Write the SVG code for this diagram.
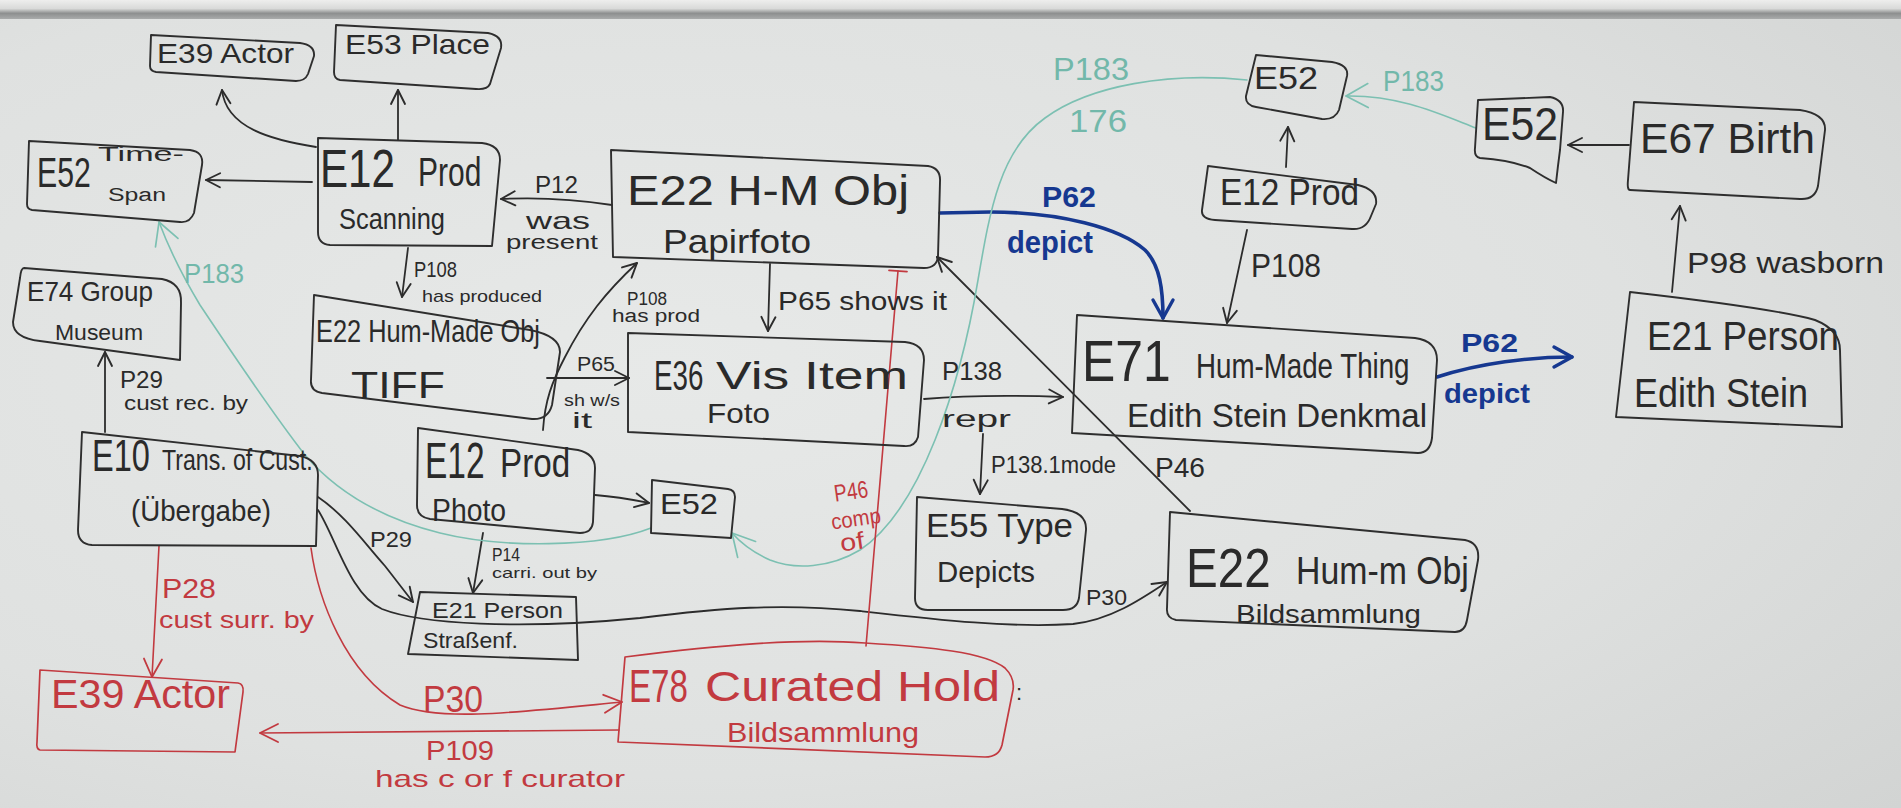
<svg xmlns="http://www.w3.org/2000/svg" width="1901" height="808" viewBox="0 0 1901 808">
  <defs>
    <radialGradient id="board" cx="0.35" cy="0.45" r="0.85">
      <stop offset="0" stop-color="#e7e9e8"/>
      <stop offset="0.6" stop-color="#dfe1e0"/>
      <stop offset="1" stop-color="#d2d4d3"/>
    </radialGradient>
    <linearGradient id="tray" x1="0" y1="0" x2="0" y2="1">
      <stop offset="0" stop-color="#eeeeed"/>
      <stop offset="0.45" stop-color="#d9dad9"/>
      <stop offset="0.7" stop-color="#8d8f8f"/>
      <stop offset="1" stop-color="#a9abab"/>
    </linearGradient>
    <marker id="ah-k" viewBox="0 0 20 20" refX="17" refY="10" markerWidth="20" markerHeight="20" markerUnits="userSpaceOnUse" orient="auto">
      <path d="M3,3 L17,10 L3,17" fill="none" stroke="#2c2c2c" stroke-width="1.9" stroke-linecap="round" stroke-linejoin="round"/>
    </marker>
    <marker id="ah-r" viewBox="0 0 24 24" refX="21" refY="12" markerWidth="24" markerHeight="24" markerUnits="userSpaceOnUse" orient="auto">
      <path d="M3,3 L21,12 L3,21" fill="none" stroke="#c23a40" stroke-width="1.8" stroke-linecap="round" stroke-linejoin="round"/>
    </marker>
    <marker id="ah-t" viewBox="0 0 30 30" refX="26" refY="15" markerWidth="30" markerHeight="30" markerUnits="userSpaceOnUse" orient="auto">
      <path d="M4,3 L26,15 L4,27" fill="none" stroke="#7cc0b2" stroke-width="1.7" stroke-linecap="round" stroke-linejoin="round"/>
    </marker>
    <marker id="ah-b" viewBox="0 0 26 26" refX="22" refY="13" markerWidth="26" markerHeight="26" markerUnits="userSpaceOnUse" orient="auto">
      <path d="M4,3 L22,13 L4,23" fill="none" stroke="#163890" stroke-width="3.4" stroke-linecap="round" stroke-linejoin="round"/>
    </marker>
    <marker id="bar-r" viewBox="0 0 20 20" refX="10" refY="10" markerWidth="20" markerHeight="20" markerUnits="userSpaceOnUse" orient="auto">
      <path d="M10,1 L10,19" fill="none" stroke="#c23a40" stroke-width="1.8" stroke-linecap="round"/>
    </marker>
    <style>
      .box { fill: none; stroke: #2e2e2e; stroke-width: 1.9; stroke-linejoin: round; stroke-linecap: round; }
      .rbox { fill: none; stroke: #c23a40; stroke-width: 1.7; stroke-linejoin: round; }
      .k { fill: none; stroke: #2c2c2c; stroke-width: 1.8; stroke-linecap: round; }
      .r { fill: none; stroke: #c23a40; stroke-width: 1.6; stroke-linecap: round; }
      .t { fill: none; stroke: #7cc0b2; stroke-width: 1.6; stroke-linecap: round; }
      .b { fill: none; stroke: #163890; stroke-width: 3.6; stroke-linecap: round; }
      text { font-family: "Liberation Sans", "DejaVu Sans", sans-serif; }
      .tk { fill: #2a2a2a; }
      .tr { fill: #c23a40; }
      .tt { fill: #72b8aa; }
      .tb { fill: #163890; font-weight: bold; }
    </style>
  </defs>

  <!-- whiteboard surface and aluminium top rail -->
  <rect x="0" y="0" width="1901" height="808" fill="url(#board)"/>
  <rect x="0" y="0" width="1901" height="19" fill="url(#tray)"/>

  <!-- connectors -->
  <g id="connectors">
    <!-- black -->
    <path class="k" d="M316,147 C272,140 226,128 222,90" marker-end="url(#ah-k)"/>
    <path class="k" d="M398,140 L398,90" marker-end="url(#ah-k)"/>
    <path class="k" d="M312,182 L206,180" marker-end="url(#ah-k)"/>
    <path class="k" d="M612,205 C580,200 540,197 501,199" marker-end="url(#ah-k)"/>
    <path class="k" d="M408,248 L402,297" marker-end="url(#ah-k)"/>
    <path class="k" d="M543,430 C545,400 552,382 565,357 C585,318 606,292 637,263" marker-end="url(#ah-k)"/>
    <path class="k" d="M547,378 L629,378" marker-end="url(#ah-k)"/>
    <path class="k" d="M770,264 L768,331" marker-end="url(#ah-k)"/>
    <path class="k" d="M924,399 C960,396 1010,395 1063,397" marker-end="url(#ah-k)"/>
    <path class="k" d="M983,434 L980,494" marker-end="url(#ah-k)"/>
    <path class="k" d="M1190,511 L937,257" marker-end="url(#ah-k)"/>
    <path class="k" d="M105,432 L105,352" marker-end="url(#ah-k)"/>
    <path class="k" d="M318,497 C345,515 366,545 385,566 C396,580 405,592 413,602" marker-end="url(#ah-k)"/>
    <path class="k" d="M318,510 C336,538 350,595 382,609 C420,624 520,630 640,618 C720,608 780,603 860,611 C940,620 1010,628 1073,624 C1110,620 1140,600 1167,582" marker-end="url(#ah-k)"/>
    <path class="k" d="M595,495 C620,497 634,500 649,503" marker-end="url(#ah-k)"/>
    <path class="k" d="M483,533 L473,593" marker-end="url(#ah-k)"/>
    <path class="k" d="M1286,167 L1288,127" marker-end="url(#ah-k)"/>
    <path class="k" d="M1247,230 L1227,323" marker-end="url(#ah-k)"/>
    <path class="k" d="M1629,145 L1568,145" marker-end="url(#ah-k)"/>
    <path class="k" d="M1672,292 L1680,206" marker-end="url(#ah-k)"/>
    <!-- blue -->
    <path class="b" d="M940,213 L990,212 C1060,212 1120,228 1145,250 C1160,265 1163,290 1163,318" marker-end="url(#ah-b)"/>
    <path class="b" d="M1437,377 C1480,363 1530,357 1572,357" stroke-width="3" marker-end="url(#ah-b)"/>
    <!-- teal -->
    <path class="t" d="M651,528 C600,548 500,548 440,533 C380,518 335,490 305,455 C270,410 230,350 200,305 C185,280 168,246 159,222" marker-end="url(#ah-t)"/>
    <path class="t" d="M1247,80 C1170,72 1090,85 1045,118 C1000,150 990,210 978,280 C968,340 955,390 935,440 C915,490 890,530 860,550 C830,568 795,570 770,560 C752,552 740,542 732,533" marker-end="url(#ah-t)"/>
    <path class="t" d="M1476,128 C1440,114 1400,95 1346,96" marker-end="url(#ah-t)"/>
    <!-- red -->
    <path class="r" d="M159,546 L152,677" marker-end="url(#ah-r)"/>
    <path class="r" d="M311,548 C318,600 345,672 400,705 C440,722 520,712 622,702" marker-end="url(#ah-r)"/>
    <path class="r" d="M619,730 C500,732 380,733 260,733" marker-end="url(#ah-r)"/>
    <path class="r" d="M866,646 C874,560 886,420 898,271" marker-end="url(#bar-r)"/>
  </g>

  <!-- connector labels -->
  <g id="edge-labels">
    <text class="tk" x="535" y="193" font-size="24" textLength="43" lengthAdjust="spacingAndGlyphs">P12</text>
    <text class="tk" x="526" y="229" font-size="24" textLength="64" lengthAdjust="spacingAndGlyphs">was</text>
    <text class="tk" x="506" y="249" font-size="20" textLength="92" lengthAdjust="spacingAndGlyphs">present</text>
    <text class="tk" x="414" y="277" font-size="22" textLength="43" lengthAdjust="spacingAndGlyphs">P108</text>
    <text class="tk" x="422" y="302" font-size="17" textLength="120" lengthAdjust="spacingAndGlyphs">has produced</text>
    <text class="tk" x="627" y="305" font-size="18" textLength="40" lengthAdjust="spacingAndGlyphs">P108</text>
    <text class="tk" x="612" y="322" font-size="18" textLength="88" lengthAdjust="spacingAndGlyphs">has prod</text>
    <text class="tk" x="778" y="310" font-size="26" textLength="169" lengthAdjust="spacingAndGlyphs">P65 shows it</text>
    <text class="tk" x="577" y="371" font-size="20" textLength="38" lengthAdjust="spacingAndGlyphs">P65</text>
    <text class="tk" x="564" y="406" font-size="16" textLength="56" lengthAdjust="spacingAndGlyphs">sh w/s</text>
    <text class="tk" x="572" y="428" font-size="22" textLength="20" lengthAdjust="spacingAndGlyphs">it</text>
    <text class="tk" x="120" y="388" font-size="24" textLength="43" lengthAdjust="spacingAndGlyphs">P29</text>
    <text class="tk" x="124" y="410" font-size="20" textLength="124" lengthAdjust="spacingAndGlyphs">cust rec. by</text>
    <text class="tk" x="370" y="547" font-size="22" textLength="42" lengthAdjust="spacingAndGlyphs">P29</text>
    <text class="tk" x="492" y="561" font-size="18" textLength="28" lengthAdjust="spacingAndGlyphs">P14</text>
    <text class="tk" x="492" y="578" font-size="15" textLength="105" lengthAdjust="spacingAndGlyphs">carri. out by</text>
    <text class="tk" x="942" y="380" font-size="26" textLength="60" lengthAdjust="spacingAndGlyphs">P138</text>
    <text class="tk" x="942" y="427" font-size="24" textLength="69" lengthAdjust="spacingAndGlyphs">repr</text>
    <text class="tk" x="991" y="473" font-size="24" textLength="125" lengthAdjust="spacingAndGlyphs">P138.1mode</text>
    <text class="tk" x="1155" y="477" font-size="28" textLength="50" lengthAdjust="spacingAndGlyphs">P46</text>
    <text class="tk" x="1086" y="605" font-size="22" textLength="41" lengthAdjust="spacingAndGlyphs">P30</text>
    <text class="tk" x="1251" y="277" font-size="34" textLength="70" lengthAdjust="spacingAndGlyphs">P108</text>
    <text class="tk" x="1687" y="273" font-size="30" textLength="197" lengthAdjust="spacingAndGlyphs">P98 wasborn</text>
    <text class="tb" x="1042" y="207" font-size="30" textLength="54" lengthAdjust="spacingAndGlyphs">P62</text>
    <text class="tb" x="1007" y="253" font-size="32" textLength="86" lengthAdjust="spacingAndGlyphs">depict</text>
    <text class="tb" x="1461" y="352" font-size="26" textLength="57" lengthAdjust="spacingAndGlyphs">P62</text>
    <text class="tb" x="1444" y="403" font-size="28" textLength="86" lengthAdjust="spacingAndGlyphs">depict</text>
    <text class="tt" x="184" y="283" font-size="28" textLength="60" lengthAdjust="spacingAndGlyphs">P183</text>
    <text class="tt" x="1053" y="80" font-size="32" textLength="76" lengthAdjust="spacingAndGlyphs">P183</text>
    <text class="tt" x="1069" y="132" font-size="32" textLength="58" lengthAdjust="spacingAndGlyphs">176</text>
    <text class="tt" x="1383" y="91" font-size="30" textLength="61" lengthAdjust="spacingAndGlyphs">P183</text>
    <text class="tr" x="162" y="598" font-size="28" textLength="54" lengthAdjust="spacingAndGlyphs">P28</text>
    <text class="tr" x="159" y="628" font-size="24" textLength="155" lengthAdjust="spacingAndGlyphs">cust surr. by</text>
    <text class="tr" x="423" y="712" font-size="36" textLength="60" lengthAdjust="spacingAndGlyphs">P30</text>
    <text class="tr" x="426" y="760" font-size="28" textLength="68" lengthAdjust="spacingAndGlyphs">P109</text>
    <text class="tr" x="375" y="787" font-size="24" textLength="250" lengthAdjust="spacingAndGlyphs">has c or f curator</text>
    <g transform="rotate(-8 850 520)">
      <text class="tr" x="838" y="500" font-size="24" textLength="34" lengthAdjust="spacingAndGlyphs">P46</text>
      <text class="tr" x="831" y="527" font-size="22" textLength="50" lengthAdjust="spacingAndGlyphs">comp</text>
      <text class="tr" x="837" y="550" font-size="24" textLength="24" lengthAdjust="spacingAndGlyphs">of</text>
    </g>
  </g>

  <!-- nodes -->
  <g id="e39-actor">
    <path class="box" d="M151,35 L300,43 Q315,45 314,56 L308,74 Q305,81 296,81 L156,72 Q150,71 150,66 Z"/>
    <text class="tk" x="157" y="63" font-size="28" textLength="137" lengthAdjust="spacingAndGlyphs">E39 Actor</text>
  </g>
  <g id="e53-place">
    <path class="box" d="M336,25 L488,33 Q503,36 501,48 L490,84 Q487,90 476,89 L340,80 Q334,79 334,72 Z"/>
    <text class="tk" x="345" y="54" font-size="28" textLength="145" lengthAdjust="spacingAndGlyphs">E53 Place</text>
  </g>
  <g id="e52-time-span">
    <path class="box" d="M29,141 L190,150 Q204,152 202,165 L194,213 Q190,223 180,222 L32,210 Q27,209 27,204 Z"/>
    <text class="tk" transform="translate(37,187) scale(0.72,1)" font-size="42">E52</text>
    <text class="tk" x="98" y="161" font-size="20" textLength="86" lengthAdjust="spacingAndGlyphs">Time-</text>
    <text class="tk" x="108" y="201" font-size="18" textLength="58" lengthAdjust="spacingAndGlyphs">Span</text>
  </g>
  <g id="e12-prod-scanning">
    <path class="box" d="M318,138 L482,143 Q500,145 500,160 L492,246 L330,245 Q318,244 318,232 Z"/>
    <text class="tk" transform="translate(320,187) scale(0.78,1)" font-size="54">E12</text>
    <text class="tk" transform="translate(418,186) scale(0.75,1)" font-size="40">Prod</text>
    <text class="tk" x="339" y="229" font-size="30" textLength="106" lengthAdjust="spacingAndGlyphs">Scanning</text>
  </g>
  <g id="e22-papirfoto">
    <path class="box" d="M611,150 L928,166 Q941,168 940,182 L938,256 Q937,268 924,268 L613,257 Z"/>
    <text class="tk" x="627" y="205" font-size="42" textLength="282" lengthAdjust="spacingAndGlyphs">E22 H-M Obj</text>
    <text class="tk" x="663" y="253" font-size="34" textLength="148" lengthAdjust="spacingAndGlyphs">Papirfoto</text>
  </g>
  <g id="e22-tiff">
    <path class="box" d="M314,295 L530,330 Q560,336 560,352 L552,405 Q548,420 532,419 L322,393 Q310,391 311,380 Z"/>
    <text class="tk" x="316" y="342" font-size="32" textLength="224" lengthAdjust="spacingAndGlyphs">E22 Hum-Made Obj</text>
    <text class="tk" x="351" y="398" font-size="36" textLength="94" lengthAdjust="spacingAndGlyphs">TIFF</text>
  </g>
  <g id="e74-group">
    <path class="box" d="M24,268 L162,279 Q182,283 181,303 L180,360 L40,341 Q13,338 13,322 L20,278 Q21,268 24,268 Z"/>
    <text class="tk" x="27" y="301" font-size="28" textLength="126" lengthAdjust="spacingAndGlyphs">E74 Group</text>
    <text class="tk" x="55" y="340" font-size="22" textLength="88" lengthAdjust="spacingAndGlyphs">Museum</text>
  </g>
  <g id="e10-transfer">
    <path class="box" d="M82,432 L300,456 Q318,460 318,475 L316,546 L92,545 Q78,544 78,530 Z"/>
    <text class="tk" transform="translate(92,471) scale(0.74,1)" font-size="44">E10</text>
    <text class="tk" transform="translate(162,470) scale(0.77,1)" font-size="30">Trans. of Cust.</text>
    <text class="tk" x="131" y="521" font-size="30" textLength="140" lengthAdjust="spacingAndGlyphs">(Übergabe)</text>
  </g>
  <g id="e36-vis-item">
    <path class="box" d="M628,333 L905,342 Q924,344 924,360 L918,437 Q915,447 904,446 L628,432 Z"/>
    <text class="tk" transform="translate(654,390) scale(0.66,1)" font-size="42">E36</text>
    <text class="tk" x="716" y="389" font-size="38" textLength="192" lengthAdjust="spacingAndGlyphs">Vis Item</text>
    <text class="tk" x="707" y="423" font-size="28" textLength="63" lengthAdjust="spacingAndGlyphs">Foto</text>
  </g>
  <g id="e12-prod-photo">
    <path class="box" d="M418,428 L578,450 Q595,454 595,468 L593,522 Q592,533 580,533 L430,519 Q417,517 417,505 Z"/>
    <text class="tk" transform="translate(425,478) scale(0.67,1)" font-size="50">E12</text>
    <text class="tk" transform="translate(500,477) scale(0.83,1)" font-size="40">Prod</text>
    <text class="tk" x="432" y="521" font-size="32" textLength="74" lengthAdjust="spacingAndGlyphs">Photo</text>
  </g>
  <g id="e52-photo">
    <path class="box" d="M652,480 L728,489 Q735,490 735,497 L731,538 L651,533 Z"/>
    <text class="tk" x="660" y="514" font-size="30" textLength="58" lengthAdjust="spacingAndGlyphs">E52</text>
  </g>
  <g id="e21-person-photographer">
    <path class="box" d="M420,592 L576,597 L578,660 L408,654 Z"/>
    <text class="tk" x="432" y="618" font-size="22" textLength="131" lengthAdjust="spacingAndGlyphs">E21 Person</text>
    <text class="tk" x="423" y="648" font-size="22" textLength="95" lengthAdjust="spacingAndGlyphs">Straßenf.</text>
  </g>
  <g id="e39-actor-red">
    <path class="rbox" d="M40,670 L238,683 Q244,684 243,692 L235,752 L40,750 Q36,749 37,742 Z"/>
    <text class="tr" x="51" y="708" font-size="40" textLength="179" lengthAdjust="spacingAndGlyphs">E39 Actor</text>
  </g>
  <g id="e78-curated-holding">
    <path class="rbox" d="M625,657 C720,645 800,638 865,643 C930,647 985,652 1005,668 Q1015,678 1013,690 L1002,745 Q999,757 985,757 L618,742 Z"/>
    <text class="tr" transform="translate(629,702) scale(0.72,1)" font-size="46">E78</text>
    <text class="tr" x="705" y="701" font-size="42" textLength="295" lengthAdjust="spacingAndGlyphs">Curated Hold</text>
    <text class="tr" x="727" y="742" font-size="28" textLength="192" lengthAdjust="spacingAndGlyphs">Bildsammlung</text>
    <text class="tk" x="1016" y="700" font-size="22">:</text>
  </g>
  <g id="e55-type">
    <path class="box" d="M917,497 L1062,509 Q1087,512 1086,530 L1079,598 Q1077,610 1063,610 L928,610 Q915,610 915,598 Z"/>
    <text class="tk" x="926" y="537" font-size="34" textLength="147" lengthAdjust="spacingAndGlyphs">E55 Type</text>
    <text class="tk" x="937" y="582" font-size="30" textLength="98" lengthAdjust="spacingAndGlyphs">Depicts</text>
  </g>
  <g id="e71-denkmal">
    <path class="box" d="M1077,315 L1415,338 Q1437,341 1437,360 L1432,438 Q1430,453 1418,453 L1072,433 Z"/>
    <text class="tk" transform="translate(1082,381) scale(0.86,1)" font-size="58">E71</text>
    <text class="tk" transform="translate(1196,378) scale(0.77,1)" font-size="36">Hum-Made Thing</text>
    <text class="tk" x="1127" y="427" font-size="34" textLength="300" lengthAdjust="spacingAndGlyphs">Edith Stein Denkmal</text>
  </g>
  <g id="e22-bildsammlung">
    <path class="box" d="M1170,512 L1465,540 Q1480,543 1478,560 L1467,620 Q1465,632 1455,632 L1176,620 Q1166,618 1167,608 Z"/>
    <text class="tk" transform="translate(1186,587) scale(0.85,1)" font-size="56">E22</text>
    <text class="tk" transform="translate(1296,584) scale(0.89,1)" font-size="38">Hum-m Obj</text>
    <text class="tk" x="1236" y="623" font-size="26" textLength="185" lengthAdjust="spacingAndGlyphs">Bildsammlung</text>
  </g>
  <g id="e12-prod-monument">
    <path class="box" d="M1208,166 L1358,185 Q1378,190 1376,204 L1371,216 Q1366,230 1352,229 L1215,220 Q1201,219 1202,210 Z"/>
    <text class="tk" x="1220" y="205" font-size="36" textLength="139" lengthAdjust="spacingAndGlyphs">E12 Prod</text>
  </g>
  <g id="e52-monument">
    <path class="box" d="M1256,55 L1332,62 Q1349,65 1347,76 L1339,110 Q1335,120 1322,119 L1256,107 Q1245,105 1246,96 Z"/>
    <text class="tk" x="1254" y="89" font-size="32" textLength="64" lengthAdjust="spacingAndGlyphs">E52</text>
  </g>
  <g id="e52-birth">
    <path class="box" d="M1478,100 L1550,97 Q1564,100 1563,112 L1560,150 Q1558,165 1556,183 Q1545,178 1530,168 Q1510,160 1480,158 Q1474,157 1475,148 Z"/>
    <text class="tk" x="1482" y="140" font-size="46" textLength="76" lengthAdjust="spacingAndGlyphs">E52</text>
  </g>
  <g id="e67-birth">
    <path class="box" d="M1634,102 L1800,110 Q1826,114 1825,130 L1818,186 Q1815,200 1800,199 L1630,190 Q1627,190 1628,180 Z"/>
    <text class="tk" x="1640" y="153" font-size="42" textLength="175" lengthAdjust="spacingAndGlyphs">E67 Birth</text>
  </g>
  <g id="e21-edith-stein">
    <path class="box" d="M1630,292 C1700,300 1780,310 1815,320 Q1840,330 1840,350 L1842,427 L1616,417 Z"/>
    <text class="tk" x="1647" y="350" font-size="40" textLength="192" lengthAdjust="spacingAndGlyphs">E21 Person</text>
    <text class="tk" x="1634" y="407" font-size="40" textLength="174" lengthAdjust="spacingAndGlyphs">Edith Stein</text>
  </g>
</svg>
